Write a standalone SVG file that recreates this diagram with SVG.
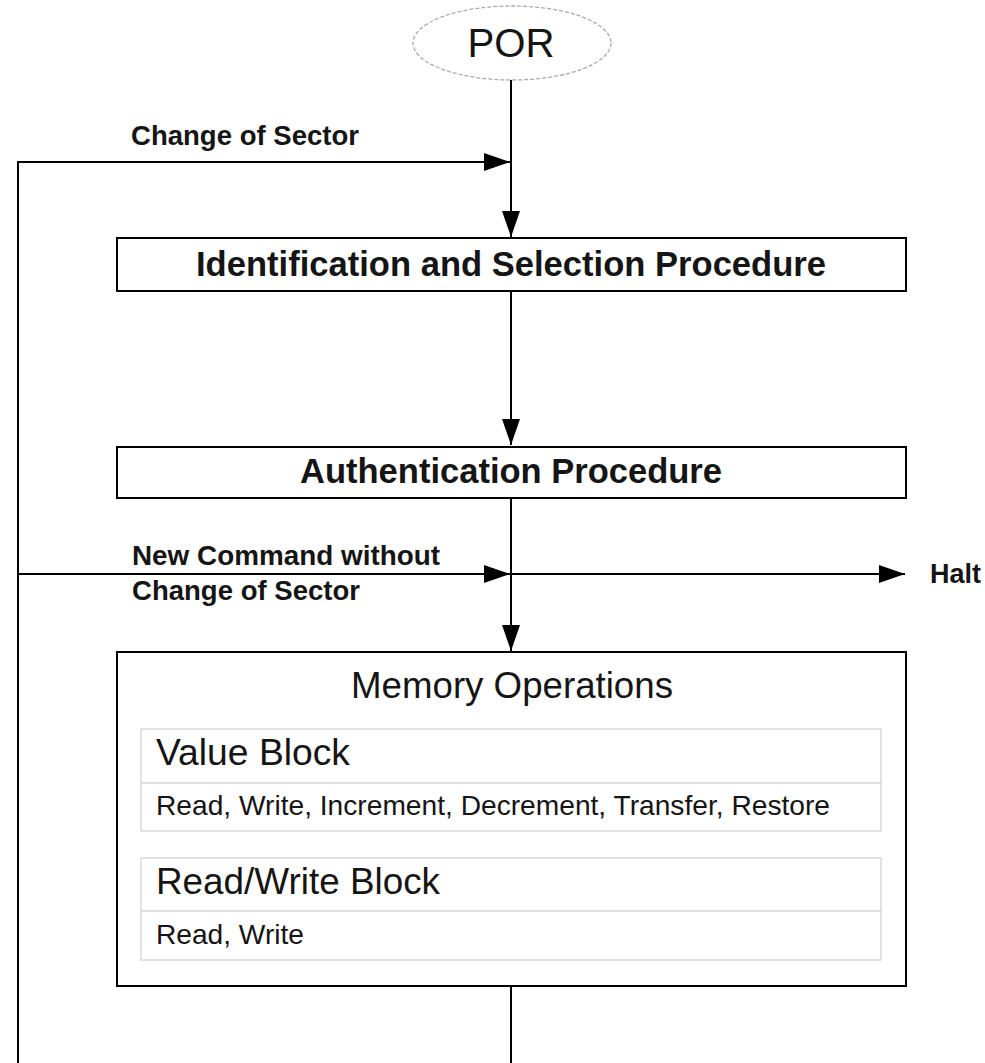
<svg xmlns="http://www.w3.org/2000/svg" width="985" height="1063" viewBox="0 0 985 1063">
  <style>
    .box { fill: #fff; stroke: #000; stroke-width: 2; }
    .cell { fill: #fff; stroke: #d9d9d9; stroke-width: 1.5; }
    .wire { fill: none; stroke: #000; stroke-width: 2; }
    .title { font-family: "Liberation Sans", Arial, sans-serif; font-weight: bold; font-size: 34.5px; fill: #151515; }
    .label { font-family: "Liberation Sans", Arial, sans-serif; font-weight: bold; font-size: 27.7px; fill: #151515; }
    .plain { font-family: "Liberation Sans", Arial, sans-serif; fill: #151515; }
  </style>
  <defs>
    <marker id="arrow" viewBox="0 0 26 18" refX="26" refY="9" markerWidth="26" markerHeight="18" markerUnits="userSpaceOnUse" orient="auto">
      <path d="M0,0 L26,9 L0,18 Z" fill="#000"/>
    </marker>
  </defs>
  <rect width="985" height="1063" fill="#fff"/>

  <!-- connectors -->
  <g id="connectors">
    <line class="wire" x1="511" y1="80" x2="511" y2="237" marker-end="url(#arrow)"/>
    <polyline class="wire" points="18,1063 18,162 510,162" marker-end="url(#arrow)"/>
    <line class="wire" x1="511" y1="291" x2="511" y2="445" marker-end="url(#arrow)"/>
    <line class="wire" x1="511" y1="498" x2="511" y2="651" marker-end="url(#arrow)"/>
    <line class="wire" x1="18" y1="574" x2="510" y2="574" marker-end="url(#arrow)"/>
    <line class="wire" x1="511" y1="574" x2="905" y2="574" marker-end="url(#arrow)"/>
    <line class="wire" x1="511" y1="986" x2="511" y2="1063"/>
    <text class="label" x="131" y="145" textLength="228" lengthAdjust="spacingAndGlyphs">Change of Sector</text>
    <text class="label" x="132" y="565" textLength="308" lengthAdjust="spacingAndGlyphs">New Command without</text>
    <text class="label" x="132" y="600" textLength="228" lengthAdjust="spacingAndGlyphs">Change of Sector</text>
    <text class="label" x="930" y="583" textLength="51" lengthAdjust="spacingAndGlyphs">Halt</text>
  </g>

  <!-- start node -->
  <g id="por">
    <ellipse cx="512" cy="43" rx="99" ry="37" fill="#fff" stroke="#aaa" stroke-width="1.3" stroke-dasharray="4 2"/>
    <text class="plain" x="511" y="57" text-anchor="middle" font-size="41" textLength="87" lengthAdjust="spacingAndGlyphs">POR</text>
  </g>

  <g id="identification">
    <rect class="box" x="117" y="238" width="789" height="53"/>
    <text class="title" x="511" y="276" text-anchor="middle" textLength="630" lengthAdjust="spacingAndGlyphs">Identification and Selection Procedure</text>
  </g>

  <g id="authentication">
    <rect class="box" x="117" y="447" width="789" height="51"/>
    <text class="title" x="511" y="483" text-anchor="middle" textLength="422" lengthAdjust="spacingAndGlyphs">Authentication Procedure</text>
  </g>

  <g id="memory-operations">
    <rect class="box" x="117" y="652" width="789" height="334"/>
    <text class="plain" x="512" y="698" text-anchor="middle" font-size="36" textLength="322" lengthAdjust="spacingAndGlyphs">Memory Operations</text>

    <g id="value-block">
      <rect class="cell" x="141" y="729" width="740" height="54"/>
      <rect class="cell" x="141" y="783" width="740" height="48"/>
      <text class="plain" x="156" y="765" font-size="36.5" textLength="194" lengthAdjust="spacingAndGlyphs">Value Block</text>
      <text class="plain" x="156" y="815" font-size="28" textLength="674" lengthAdjust="spacingAndGlyphs">Read, Write, Increment, Decrement, Transfer, Restore</text>
    </g>

    <g id="read-write-block">
      <rect class="cell" x="141" y="858" width="740" height="53"/>
      <rect class="cell" x="141" y="911" width="740" height="49"/>
      <text class="plain" x="156" y="894" font-size="36.5" textLength="284" lengthAdjust="spacingAndGlyphs">Read/Write Block</text>
      <text class="plain" x="156" y="944" font-size="28" textLength="148" lengthAdjust="spacingAndGlyphs">Read, Write</text>
    </g>
  </g>
</svg>
